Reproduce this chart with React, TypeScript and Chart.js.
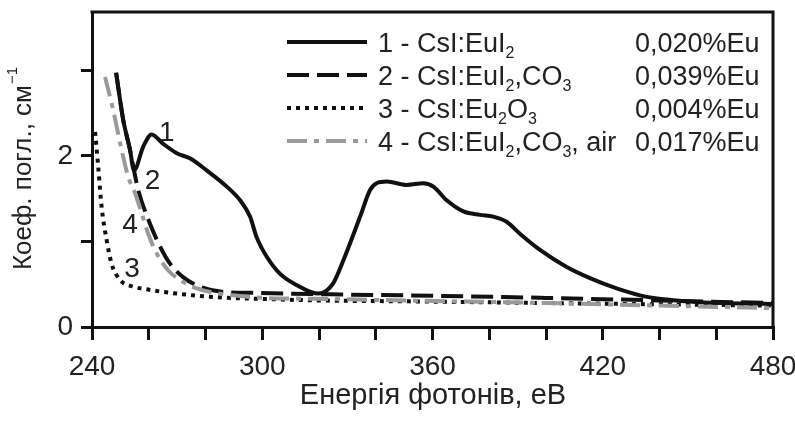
import React, { useEffect, useRef } from "react";
import { Chart, registerables } from "chart.js";

Chart.register(...registerables);

// ---- data ----
const c1x = [248.5, 251.0, 253.4, 254.8, 258.1, 261.0, 265.1, 269.9, 274.5, 280.4, 287.5, 292.2, 295.7, 298.0, 301.6, 306.3, 312.1, 319.8, 325.0, 328.6, 334.5, 338.0, 340.3, 343.9, 350.9, 356.8, 360.3, 365.0, 370.9, 376.7, 381.4, 386.1, 390.8, 397.9, 407.3, 415.5, 424.9, 433.1, 442.5, 454.3, 480];
const c1y = [2.97, 2.42, 2.07, 1.83, 2.11, 2.25, 2.14, 2.03, 1.97, 1.83, 1.64, 1.48, 1.29, 1.05, 0.82, 0.62, 0.49, 0.39, 0.51, 0.78, 1.29, 1.60, 1.68, 1.70, 1.66, 1.68, 1.64, 1.48, 1.35, 1.31, 1.29, 1.23, 1.09, 0.90, 0.70, 0.57, 0.45, 0.37, 0.32, 0.29, 0.27];

const c2x = [248.5, 251.0, 253.4, 254.8, 256.3, 260.4, 264.0, 267.5, 272.2, 278.1, 286.3, 296.8, 308.6, 327.4, 350, 400, 440, 480];
const c2y = [2.97, 2.42, 2.07, 1.83, 1.60, 1.21, 0.94, 0.74, 0.58, 0.47, 0.41, 0.40, 0.39, 0.38, 0.37, 0.34, 0.31, 0.28];

const c3x = [241.1, 242.2, 243.4, 245.2, 246.9, 249.9, 254.6, 259.3, 265.1, 282.7, 298, 320, 350, 400, 480];
const c3y = [2.28, 1.87, 1.40, 1.01, 0.74, 0.55, 0.47, 0.44, 0.41, 0.35, 0.33, 0.31, 0.30, 0.28, 0.25];

const c4x = [244.6, 247.5, 249.9, 252.8, 255.2, 257.5, 259.8, 262.8, 266.9, 271.0, 276.9, 285.1, 300.4, 318.0, 350, 400, 440, 480];
const c4y = [2.92, 2.53, 2.15, 1.75, 1.56, 1.33, 1.09, 0.86, 0.66, 0.55, 0.45, 0.39, 0.34, 0.33, 0.31, 0.28, 0.25, 0.22];

// curve number annotations
const curveTags = ["1", "2", "4", "3"];
const curveTagX = [266.4, 261.3, 253.4, 254.1];
const curveTagY = [2.29, 1.73, 1.21, 0.70];

// legend texts ("_d" = subscript digit)
const legendNames = ["1 - CsI:EuI_2", "2 - CsI:EuI_2,CO_3", "3 - CsI:Eu_2O_3", "4 - CsI:EuI_2,CO_3, air"];
const legendPct = ["0,020%Eu", "0,039%Eu", "0,004%Eu", "0,017%Eu"];

const xTickLabels = [240, 300, 360, 420, 480];
const yTickLabels = [0, 2];

const xTitle = "Енергія фотонів, еВ";
const yTitleMain = "Коеф. погл., см";
const yTitleSup = "−1";

// ---- styles ----
const FONT = "'Liberation Sans', Arial, sans-serif";
const BLACK = "#111111";
const GRAY = "#9a9a9a";
const TEXT = "#222222";
const styles = [
  { color: BLACK, dash: [] as number[] },
  { color: BLACK, dash: [22, 8] },
  { color: BLACK, dash: [4, 5] },
  { color: GRAY, dash: [20, 7, 5, 7] },
];

const pts = (xs: number[], ys: number[]) => xs.map((x, i) => ({ x, y: ys[i] }));

const overlay = {
  id: "overlay",
  afterDraw(chart: any) {
    const { ctx, chartArea: a, scales } = chart;
    const xs = scales.x;
    const ys = scales.y;
    ctx.save();
    // frame top & right
    ctx.strokeStyle = BLACK;
    ctx.lineWidth = 3;
    ctx.setLineDash([]);
    ctx.beginPath();
    ctx.moveTo(a.left - 1.5, a.top);
    ctx.lineTo(a.right, a.top);
    ctx.lineTo(a.right, a.bottom + 1.5);
    ctx.stroke();

    // curve tags
    ctx.fillStyle = TEXT;
    ctx.font = `28px ${FONT}`;
    ctx.textAlign = "center";
    ctx.textBaseline = "alphabetic";
    curveTags.forEach((t, i) => {
      const px = xs.getPixelForValue(curveTagX[i]);
      const py = ys.getPixelForValue(curveTagY[i]);
      ctx.fillText(t, px, py + 10);
    });

    // legend
    const rowY = [42, 75, 108, 141];
    [0, 1, 2, 3].forEach((si, r) => {
      const st = styles[si];
      const cy = rowY[r];
      ctx.strokeStyle = st.color;
      ctx.lineWidth = 4;
      ctx.lineCap = "butt";
      ctx.setLineDash(st.dash);
      ctx.beginPath();
      ctx.moveTo(287, cy);
      ctx.lineTo(367, cy);
      ctx.stroke();
      ctx.setLineDash([]);
      ctx.fillStyle = TEXT;
      ctx.textAlign = "left";
      let xpos = 378;
      const parts = legendNames[r].split(/_(\d)/);
      parts.forEach((p, k) => {
        if (!p) return;
        if (k % 2 === 1) {
          ctx.font = `16px ${FONT}`;
          ctx.fillText(p, xpos, cy + 16);
        } else {
          ctx.font = `27px ${FONT}`;
          ctx.fillText(p, xpos, cy + 10);
        }
        xpos += ctx.measureText(p).width;
      });
      ctx.font = `27px ${FONT}`;
      ctx.fillText(legendPct[r], 635, cy + 10);
    });

    // x title
    ctx.fillStyle = TEXT;
    ctx.font = `29px ${FONT}`;
    ctx.textAlign = "center";
    ctx.fillText(xTitle, 433, 404);

    // y title (rotated)
    ctx.save();
    ctx.translate(31, 169);
    ctx.rotate(-Math.PI / 2);
    ctx.font = `26px ${FONT}`;
    const w1 = ctx.measureText(yTitleMain).width;
    ctx.font = `15px ${FONT}`;
    const w2 = ctx.measureText(yTitleSup).width;
    const start = -(w1 + w2) / 2;
    ctx.textAlign = "left";
    ctx.font = `26px ${FONT}`;
    ctx.fillText(yTitleMain, start, 0);
    ctx.font = `15px ${FONT}`;
    ctx.fillText(yTitleSup, start + w1 + 1, -14);
    ctx.restore();

    ctx.restore();
  },
};

export default function App() {
  const ref = useRef<HTMLCanvasElement | null>(null);
  useEffect(() => {
    if (!ref.current) return;
    const series = [
      { x: c4x, y: c4y, s: styles[3] },
      { x: c3x, y: c3y, s: styles[2] },
      { x: c2x, y: c2y, s: styles[1] },
      { x: c1x, y: c1y, s: styles[0] },
    ];
    const chart = new Chart(ref.current, {
      type: "scatter",
      data: {
        datasets: series.map((d) => ({
          data: pts(d.x, d.y),
          showLine: true,
          borderColor: d.s.color,
          backgroundColor: d.s.color,
          borderWidth: 4,
          borderDash: d.s.dash,
          pointRadius: 0,
          cubicInterpolationMode: "monotone" as const,
          fill: false,
        })),
      },
      options: {
        responsive: false,
        animation: false,
        events: [],
        layout: { padding: { left: 0, top: 12, right: 22, bottom: 0 } },
        plugins: { legend: { display: false }, tooltip: { enabled: false } },
        scales: {
          x: {
            type: "linear",
            min: 240,
            max: 480,
            afterFit: (s: any) => {
              s.height = 94;
              s.paddingLeft = 0;
              s.paddingRight = 0;
            },
            border: { display: true, width: 3, color: BLACK },
            grid: { drawOnChartArea: false, drawTicks: true, tickLength: 13, lineWidth: 3, color: BLACK },
            ticks: {
              stepSize: 20,
              autoSkip: false,
              maxRotation: 0,
              padding: 10,
              color: TEXT,
              font: { family: FONT, size: 28 },
              callback: (v: any) => (xTickLabels.includes(Number(v)) ? String(v) : ""),
            },
          },
          y: {
            type: "linear",
            min: 0,
            max: 3.68,
            afterFit: (s: any) => {
              s.width = 92;
              s.paddingTop = 0;
              s.paddingBottom = 0;
            },
            border: { display: true, width: 3, color: BLACK },
            grid: { drawOnChartArea: false, drawTicks: true, tickLength: 11, lineWidth: 3, color: BLACK },
            ticks: {
              stepSize: 1,
              includeBounds: false,
              autoSkip: false,
              padding: 8,
              color: TEXT,
              font: { family: FONT, size: 28 },
              callback: (v: any) => (yTickLabels.includes(Number(v)) ? String(v) : ""),
            },
          },
        },
      },
      plugins: [overlay],
    });
    return () => chart.destroy();
  }, []);
  return (
    <div style={{ position: "fixed", left: 0, top: 0, width: 795, height: 421, background: "#fff" }}>
      <canvas ref={ref} width={795} height={421} style={{ display: "block" }} />
    </div>
  );
}
